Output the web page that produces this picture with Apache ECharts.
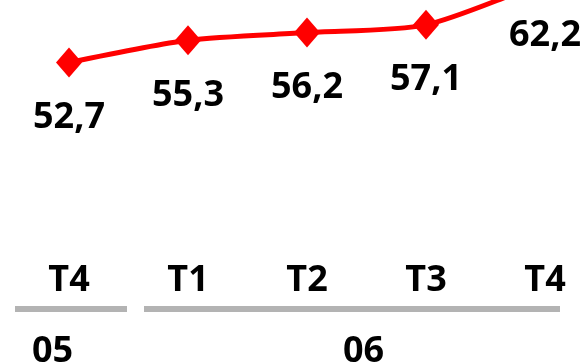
<!DOCTYPE html>
<html>
<head>
<meta charset="utf-8">
<script src="https://cdn.jsdelivr.net/npm/echarts@6/dist/echarts.min.js"></script>
<style>
  html, body { margin: 0; padding: 0; background: #fff; }
  #chart { width: 586px; height: 363px; }
</style>
</head>
<body>
<div id="chart"></div>
<script>
// Quarterly series: T4 2005 through T4 2006
const quarters = ['T4', 'T1', 'T2', 'T3', 'T4'];
const values = [52.7, 55.3, 56.2, 57.1, 62.2];
const years = ['05', '06'];

const FONT = '"Open Sans", "Noto Sans", sans-serif';
const fmt = v => v.toFixed(1).replace('.', ',');

const chart = echarts.init(document.getElementById('chart'), null, { renderer: 'canvas' });

chart.setOption({
  animation: false,
  backgroundColor: '#ffffff',
  grid: { left: 69, right: 41, top: 0, bottom: 105.8, containLabel: false },
  xAxis: {
    type: 'category',
    data: quarters,
    boundaryGap: false,
    axisLine: { show: false },
    axisTick: { show: false },
    splitLine: { show: false },
    axisLabel: {
      interval: 0,
      margin: 24,
      verticalAlign: 'middle',
      fontFamily: FONT,
      fontWeight: 'bold',
      fontSize: 36,
      color: '#000'
    }
  },
  yAxis: {
    type: 'value',
    min: 30,
    max: 60,
    show: false,
    splitLine: { show: false }
  },
  series: [{
    type: 'line',
    data: values,
    smooth: 0.25,
    symbol: 'diamond',
    symbolSize: [26, 30],
    lineStyle: { color: '#ff0000', width: 5 },
    itemStyle: { color: '#ff0000' },
    clip: false,
    label: {
      show: true,
      position: 'inside',
      offset: [0, 55],
      formatter: p => fmt(p.value),
      fontFamily: FONT,
      fontWeight: 'bold',
      fontSize: 36,
      color: '#000'
    }
  }],
  // year brackets under the quarter labels
  graphic: [
    { type: 'rect', shape: { x: 15, y: 306, width: 112, height: 6 }, style: { fill: '#b3b3b3' } },
    { type: 'rect', shape: { x: 144, y: 306, width: 416, height: 6 }, style: { fill: '#b3b3b3' } },
    { type: 'text', x: 52.5, y: 352, style: { text: years[0], font: 'bold 36px ' + FONT, fill: '#000', align: 'center', verticalAlign: 'middle' } },
    { type: 'text', x: 363.5, y: 352, style: { text: years[1], font: 'bold 36px ' + FONT, fill: '#000', align: 'center', verticalAlign: 'middle' } }
  ]
});
</script>
</body>
</html>
